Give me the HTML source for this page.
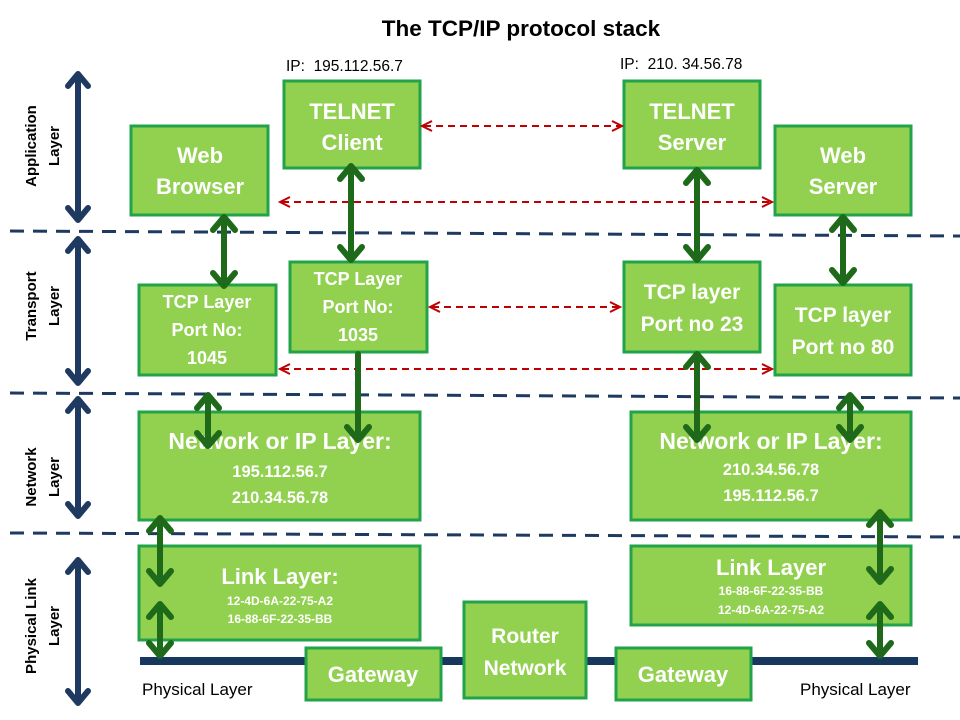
<!DOCTYPE html>
<html><head><meta charset="utf-8"><style>
body{margin:0;background:#fff}
svg{display:block}
text{font-family:"Liberation Sans",sans-serif}
.b{fill:#92d050;stroke:#22a34a;stroke-width:3}
.t{fill:#fff;font-weight:bold;text-anchor:middle}
.g{stroke:#1f6a1a;stroke-width:6;fill:none;stroke-linecap:round;stroke-linejoin:round}
.n{stroke:#1f3a60;stroke-width:6;fill:none;stroke-linecap:round;stroke-linejoin:round}
.r{stroke:#c00000;stroke-width:2;fill:none;stroke-dasharray:7 5}
.rh{stroke:#c00000;stroke-width:2;fill:none}
.d{stroke:#1f3a60;stroke-width:3;stroke-dasharray:14 9;fill:none}
.l{fill:#000;font-weight:bold;text-anchor:middle;font-size:15px}
</style></head><body>
<svg width="960" height="720" viewBox="0 0 960 720">
<text x="521" y="36" text-anchor="middle" font-weight="bold" font-size="22.5">The TCP/IP protocol stack</text>
<text x="286" y="71" font-size="15.5" xml:space="preserve">IP:  195.112.56.7</text>
<text x="620" y="69" font-size="15.5" xml:space="preserve">IP:  210. 34.56.78</text>

<path class="d" d="M10 231 L960 236"/>
<path class="d" d="M10 393 L960 398"/>
<path class="d" d="M10 533 L960 537"/>

<rect x="140" y="657" width="778" height="8" fill="#17375e"/>

<g class="n">
<path d="M78 74 V220 M68 86 L78 74 L88 86 M68 208 L78 220 L88 208"/>
<path d="M78 239 V383 M68 251 L78 239 L88 251 M68 371 L78 383 L88 371"/>
<path d="M78 399 V516 M68 411 L78 399 L88 411 M68 504 L78 516 L88 504"/>
<path d="M78 560 V703 M68 572 L78 560 L88 572 M68 691 L78 703 L88 691"/>
</g>
<g class="l">
<text transform="translate(36,146) rotate(-90)">Application</text>
<text transform="translate(59,146) rotate(-90)">Layer</text>
<text transform="translate(36,306) rotate(-90)">Transport</text>
<text transform="translate(59,306) rotate(-90)">Layer</text>
<text transform="translate(36,477) rotate(-90)">Network</text>
<text transform="translate(59,477) rotate(-90)">Layer</text>
<text transform="translate(36,626) rotate(-90)">Physical Link</text>
<text transform="translate(59,626) rotate(-90)">Layer</text>
</g>

<rect class="b" x="284" y="81" width="136" height="87"/>
<text class="t" font-size="22" x="352" y="119">TELNET</text><text class="t" font-size="22" x="352" y="150">Client</text>
<rect class="b" x="131" y="126" width="137" height="89"/>
<text class="t" font-size="22" x="200" y="163">Web</text><text class="t" font-size="22" x="200" y="194">Browser</text>
<rect class="b" x="624" y="81" width="136" height="87"/>
<text class="t" font-size="22" x="692" y="119">TELNET</text><text class="t" font-size="22" x="692" y="150">Server</text>
<rect class="b" x="775" y="126" width="136" height="89"/>
<text class="t" font-size="22" x="843" y="163">Web</text><text class="t" font-size="22" x="843" y="194">Server</text>

<rect class="b" x="139" y="285" width="137" height="90"/>
<text class="t" font-size="18" x="207" y="308">TCP Layer</text><text class="t" font-size="18" x="207" y="336">Port No:</text><text class="t" font-size="18" x="207" y="364">1045</text>
<rect class="b" x="290" y="262" width="137" height="90"/>
<text class="t" font-size="18" x="358" y="285">TCP Layer</text><text class="t" font-size="18" x="358" y="313">Port No:</text><text class="t" font-size="18" x="358" y="341">1035</text>
<rect class="b" x="624" y="262" width="136" height="90"/>
<text class="t" font-size="21" x="692" y="299">TCP layer</text><text class="t" font-size="21" x="692" y="331">Port no 23</text>
<rect class="b" x="775" y="285" width="136" height="90"/>
<text class="t" font-size="21" x="843" y="322">TCP layer</text><text class="t" font-size="21" x="843" y="354">Port no 80</text>

<rect class="b" x="139" y="412" width="281" height="108"/>
<text class="t" font-size="23" x="280" y="449">Network or IP Layer:</text>
<text class="t" font-size="16.5" x="280" y="477">195.112.56.7</text><text class="t" font-size="16.5" x="280" y="503">210.34.56.78</text>
<rect class="b" x="631" y="412" width="280" height="108"/>
<text class="t" font-size="23" x="771" y="449">Network or IP Layer:</text>
<text class="t" font-size="16.5" x="771" y="475">210.34.56.78</text><text class="t" font-size="16.5" x="771" y="501">195.112.56.7</text>

<rect class="b" x="139" y="546" width="281" height="94"/>
<text class="t" font-size="22" x="280" y="584">Link Layer:</text>
<text class="t" font-size="12" x="280" y="605">12-4D-6A-22-75-A2</text><text class="t" font-size="12" x="280" y="623">16-88-6F-22-35-BB</text>
<rect class="b" x="631" y="546" width="280" height="79"/>
<text class="t" font-size="22" x="771" y="575">Link Layer</text>
<text class="t" font-size="12" x="771" y="595">16-88-6F-22-35-BB</text><text class="t" font-size="12" x="771" y="614">12-4D-6A-22-75-A2</text>

<rect class="b" x="464" y="602" width="122" height="96"/>
<text class="t" font-size="21" x="525" y="643">Router</text><text class="t" font-size="21" x="525" y="675">Network</text>
<rect class="b" x="306" y="648" width="135" height="52"/>
<text class="t" font-size="22" x="373" y="682">Gateway</text>
<rect class="b" x="616" y="648" width="135" height="52"/>
<text class="t" font-size="22" x="683" y="682">Gateway</text>

<text x="142" y="695" font-size="17">Physical Layer</text>
<text x="800" y="695" font-size="17">Physical Layer</text>

<path class="r" d="M424 126 H620 M282 202 H770 M432 307 H618 M282 369 H770"/>
<g class="rh">
<path d="M432 121 L422 126 L432 131 M612 121 L622 126 L612 131"/>
<path d="M290 197 L280 202 L290 207 M762 197 L772 202 L762 207"/>
<path d="M440 302 L430 307 L440 312 M610 302 L620 307 L610 312"/>
<path d="M290 364 L280 369 L290 374 M762 364 L772 369 L762 374"/>
</g>

<g class="g">
<path d="M224 217 V286 M213 230 L224 217 L235 230 M213 273 L224 286 L235 273"/>
<path d="M351 166 V260 M340 179 L351 166 L362 179 M340 247 L351 260 L362 247"/>
<path d="M697 170 V260 M686 183 L697 170 L708 183 M686 247 L697 260 L708 247"/>
<path d="M843 217 V283 M832 230 L843 217 L854 230 M832 270 L843 283 L854 270"/>
<path d="M208 395 V446 M197 408 L208 395 L219 408 M197 433 L208 446 L219 433"/>
<path d="M358 354 V440 M347 427 L358 440 L369 427"/>
<path d="M697 354 V440 M686 367 L697 354 L708 367 M686 427 L697 440 L708 427"/>
<path d="M850 395 V440 M839 408 L850 395 L861 408 M839 427 L850 440 L861 427"/>
<path d="M160 518 V584 M149 531 L160 518 L171 531 M149 571 L160 584 L171 571"/>
<path d="M160 604 V656 M149 617 L160 604 L171 617 M149 643 L160 656 L171 643"/>
<path d="M880 512 V582 M869 525 L880 512 L891 525 M869 569 L880 582 L891 569"/>
<path d="M880 604 V656 M869 617 L880 604 L891 617 M869 643 L880 656 L891 643"/>
</g>
</svg>
</body></html>
